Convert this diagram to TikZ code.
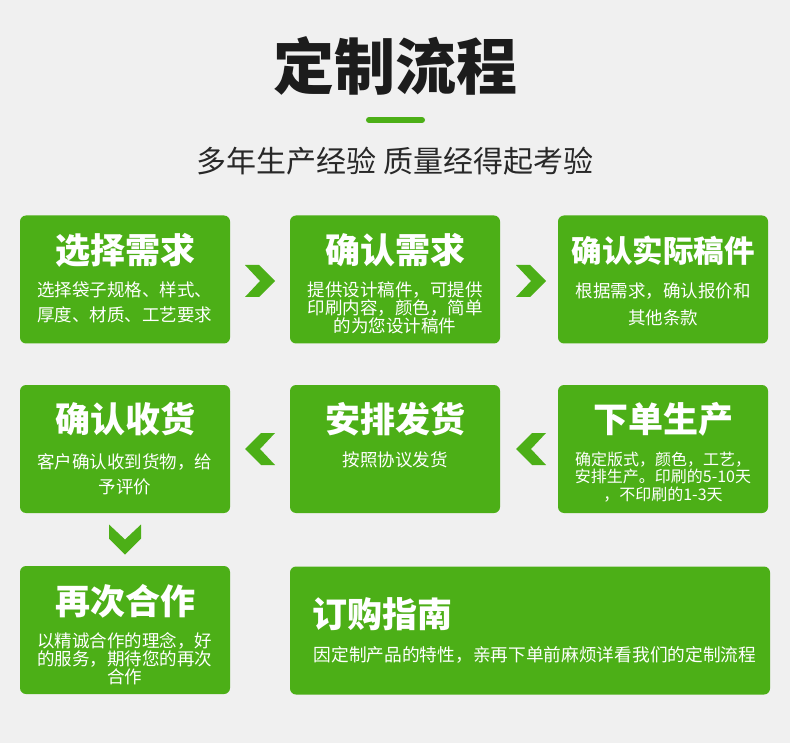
\documentclass[tikz,border=0pt]{standalone}
\usepackage{fontspec}
\setmainfont{Noto Sans CJK SC}
\IfFontExistsTF{Noto Sans CJK SC Black}
  {\newfontfamily\heavyfont{Noto Sans CJK SC Black}}
  {\newcommand\heavyfont{\bfseries}}
\usetikzlibrary{calc}
\definecolor{bg}{RGB}{240,240,240}
\definecolor{leaf}{RGB}{76,175,23}
\definecolor{ink}{RGB}{28,28,28}
\definecolor{subink}{RGB}{40,40,40}
\tikzset{
  box/.style={fill=leaf, rounded corners=6pt, minimum width=210pt, minimum height=128pt, inner sep=0pt, draw=none},
  headtext/.style={text=white, font=\fontsize{35}{40}\selectfont\bfseries, inner sep=0pt},
  bodytext/.style={text=white, font=\fontsize{17.5}{#1}\selectfont, align=center, inner sep=0pt},
  bodytext/.default=25,
  chev/.pic={\fill[leaf] (-15,-16) -- (-1,-16) -- (15,0) -- (-1,16) -- (-15,16) -- (0,0) -- cycle;}
}
\begin{document}
\begin{tikzpicture}[x=1pt,y=-1pt]
\fill[bg] (0,0) rectangle (790,743);
\useasboundingbox (0,0) rectangle (790,743);

% header
\node[text=ink, font=\fontsize{61}{66}\selectfont\heavyfont, inner sep=0pt] (title) at (395,66) {定制流程};
\coordinate (barL) at (369,120);
\coordinate (barR) at (422,120);
\draw[leaf, line width=6pt, line cap=round] (barL) -- (barR);
\node[text=subink, font=\fontsize{30}{34}\selectfont, inner sep=0pt] (sub) at (395,161) {多年生产经验 质量经得起考验};

% boxes
\node[box] (b1) at (125,279.5) {};
\node[box] (b2) at (395,279.5) {};
\node[box] (b3) at (663,279.5) {};
\node[box] (b4) at (125,449) {};
\node[box] (b5) at (395,449) {};
\node[box] (b6) at (663,449) {};
\node[box] (b7) at (125,630) {};
\node[box, minimum width=480pt] (b8) at (530,630.5) {};

% titles
\node[headtext] (t1) at (125,250) {选择需求};
\node[headtext] (t2) at (395,250) {确认需求};
\node[headtext, font=\fontsize{30.5}{34}\selectfont\bfseries] (t3) at (663,251) {确认实际稿件};
\node[headtext] (t4) at (125,419) {确认收货};
\node[headtext] (t5) at (395,419) {安排发货};
\node[headtext] (t6) at (663,419) {下单生产};
\node[headtext] (t7) at (125,601) {再次合作};
\node[headtext, anchor=west] (t8) at (312.5,614) {订购指南};

% bodies
\node[bodytext=25] (d1) at (125,302.5) {选择袋子规格、样式、\\厚度、材质、工艺要求};
\node[bodytext=18] (d2) at (395,308) {提供设计稿件，可提供\\印刷内容，颜色，简单\\的为您设计稿件};
\node[bodytext=27] (d3) at (663,304.5) {根据需求，确认报价和\\其他条款};
\node[bodytext=25] (d4) at (125,474.5) {客户确认收到货物，给\\予评价};
\node[bodytext] (d5) at (395,460) {按照协议发货};
\node[bodytext=17.5, font=\fontsize{16}{17.5}\selectfont] (d6) at (663,477) {确定版式，颜色，工艺，\\安排生产。印刷的5-10天\\，不印刷的1-3天};
\node[bodytext=18] (d7) at (125,659) {以精诚合作的理念，好\\的服务，期待您的再次\\合作};
\node[bodytext, anchor=west, font=\fontsize{17.7}{25}\selectfont] (d8) at (313.5,655) {因定制产品的特性，亲再下单前麻烦详看我们的定制流程};

% chevron connectors
\coordinate (c12) at ($(b1.east)!0.5!(b2.west)+(0,1.5)$);
\coordinate (c23) at ($(b2.east)!0.5!(b3.west)+(2,1.5)$);
\coordinate (c54) at ($(b4.east)!0.5!(b5.west)$);
\coordinate (c65) at ($(b5.east)!0.5!(b6.west)+(2,0)$);
\coordinate (c47) at ($(b4.south)!0.5!(b7.north)$);
\pic at (c12) {chev};
\pic at (c23) {chev};
\pic[rotate=180] at (c54) {chev};
\pic[rotate=180] at (c65) {chev};
\pic[rotate=-90] at (c47) {chev};
\end{tikzpicture}
\end{document}
